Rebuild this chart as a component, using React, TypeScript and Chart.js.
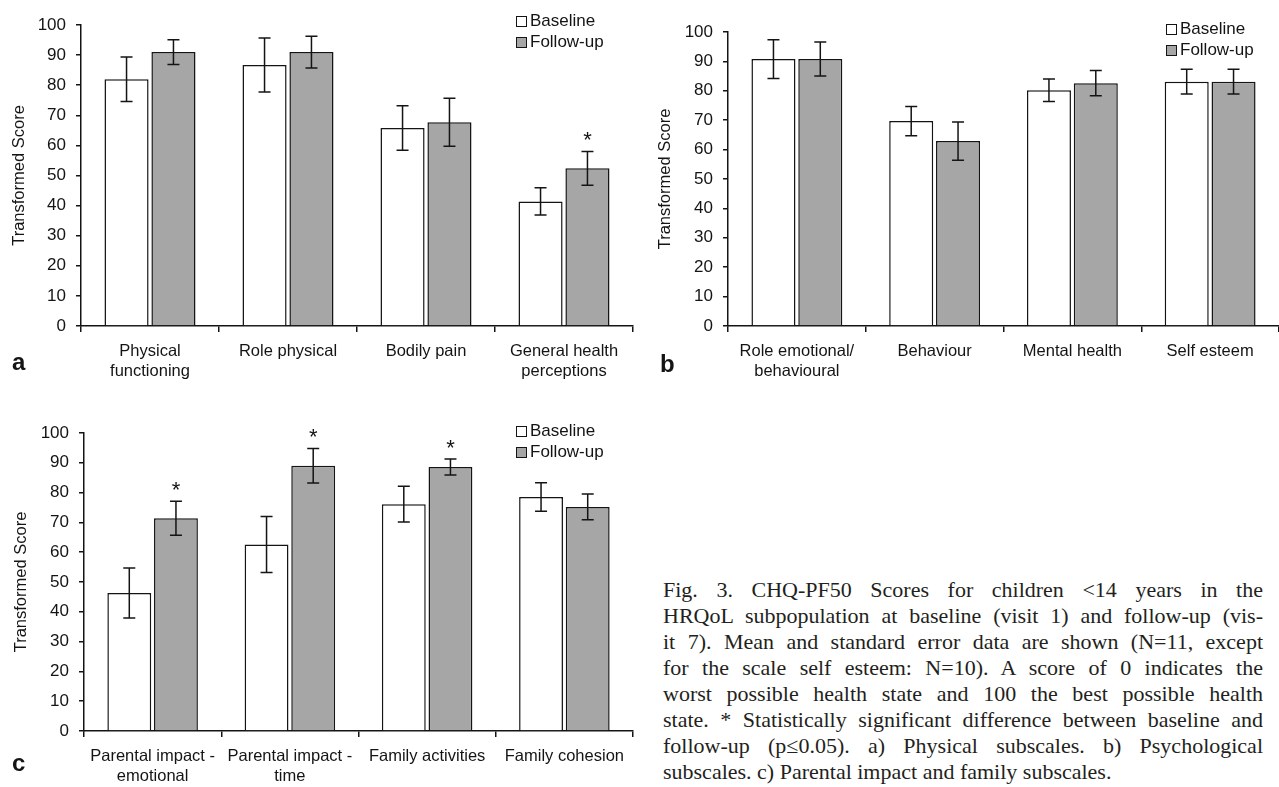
import React, { useEffect, useRef } from "react";
import { Chart, registerables } from "chart.js";
Chart.register(...registerables);

const seriesNames = ["Baseline", "Follow-up"];
const yTickValues = [0, 10, 20, 30, 40, 50, 60, 70, 80, 90, 100];

const catsA = [["Physical", "functioning"], "Role physical", "Bodily pain", ["General health", "perceptions"]];
const baseA = [82, 86.7, 65.8, 41.4];
const baseErrA = [7.4, 9.0, 7.4, 4.5];
const follA = [91, 91, 67.7, 52.4];
const follErrA = [4.1, 5.3, 8.0, 5.6];
const sigA = [false, false, false, true];

const catsB = [["Role emotional/", "behavioural"], "Behaviour", "Mental health", "Self esteem"];
const baseB = [90.8, 69.7, 80.2, 83.1];
const baseErrB = [6.6, 5.0, 3.8, 4.2];
const follB = [90.8, 62.9, 82.6, 83.1];
const follErrB = [5.8, 6.5, 4.3, 4.2];
const sigB = [false, false, false, false];

const catsC = [["Parental impact -", "emotional"], ["Parental impact -", "time"], "Family activities", "Family cohesion"];
const baseC = [46.3, 62.6, 76.1, 78.5];
const baseErrC = [8.4, 9.4, 6.0, 4.8];
const follC = [71.4, 89.0, 88.6, 75.2];
const follErrC = [5.7, 5.8, 2.7, 4.3];
const sigC = [true, true, true, false];

const FONT = "'Liberation Sans', Arial, sans-serif";
const INK = "#141414";
const GRAY = "#a6a6a6";

const errorBarPlugin = {
  id: "errorBars",
  afterDatasetsDraw(chart: any) {
    const ctx = chart.ctx;
    const y = chart.scales.y;
    ctx.save();
    chart.data.datasets.forEach((ds: any, di: number) => {
      const meta = chart.getDatasetMeta(di);
      meta.data.forEach((el: any, i: number) => {
        const v = ds.data[i];
        const e = ds.errors[i];
        const yt = y.getPixelForValue(v + e);
        const yb = y.getPixelForValue(v - e);
        const x = el.x;
        ctx.strokeStyle = INK;
        ctx.lineWidth = 1.5;
        ctx.beginPath();
        ctx.moveTo(x, yt);
        ctx.lineTo(x, yb);
        ctx.moveTo(x - 6, yt);
        ctx.lineTo(x + 6, yt);
        ctx.moveTo(x - 6, yb);
        ctx.lineTo(x + 6, yb);
        ctx.stroke();
        if (ds.sig && ds.sig[i]) {
          ctx.fillStyle = INK;
          ctx.font = `22px ${FONT}`;
          ctx.textAlign = "center";
          ctx.textBaseline = "alphabetic";
          ctx.fillText("*", x, yt - 4);
        }
      });
    });
    ctx.restore();
  },
};

type PanelProps = {
  left: number; top: number; width: number; height: number;
  padTop: number; padRight: number; yWidth: number; xHeight: number; titlePad: number;
  cats: any[]; base: number[]; baseErr: number[]; foll: number[]; follErr: number[]; sig: boolean[];
};

function Panel(p: PanelProps) {
  const ref = useRef<HTMLCanvasElement>(null);
  useEffect(() => {
    const chart = new Chart(ref.current as HTMLCanvasElement, {
      type: "bar",
      data: {
        labels: p.cats,
        datasets: [
          { label: seriesNames[0], data: p.base, errors: p.baseErr, backgroundColor: "#ffffff", borderColor: INK, borderWidth: 1.5, barPercentage: 0.94, categoryPercentage: 0.68 } as any,
          { label: seriesNames[1], data: p.foll, errors: p.follErr, sig: p.sig, backgroundColor: GRAY, borderColor: INK, borderWidth: 1.5, barPercentage: 0.94, categoryPercentage: 0.68 } as any,
        ],
      },
      options: {
        responsive: false,
        animation: false,
        devicePixelRatio: 1,
        layout: { padding: { top: p.padTop, right: p.padRight, left: 0, bottom: 0 } },
        plugins: { legend: { display: false }, tooltip: { enabled: false } },
        scales: {
          x: {
            afterFit: (s: any) => { s.height = p.xHeight; },
            grid: { display: true, offset: true, drawOnChartArea: false, drawTicks: true, tickLength: 6, color: INK, lineWidth: 1.5 },
            border: { display: true, color: INK, width: 1.5 },
            ticks: { autoSkip: false, maxRotation: 0, minRotation: 0, padding: 9, color: INK, font: { family: FONT, size: 16.5, lineHeight: 1.25 } },
          },
          y: {
            min: 0, max: 100,
            afterFit: (s: any) => { s.width = p.yWidth; },
            afterBuildTicks: (s: any) => { s.ticks = yTickValues.map((v) => ({ value: v })); },
            grid: { display: true, drawOnChartArea: false, drawTicks: true, tickLength: 5, color: INK, lineWidth: 1.5 },
            border: { display: true, color: INK, width: 1.5 },
            ticks: { padding: 10, color: INK, font: { family: FONT, size: 17 } },
            title: { display: true, text: "Transformed Score", color: INK, font: { family: FONT, size: 16.5 }, padding: { top: p.titlePad, bottom: 0 } },
          },
        },
      },
      plugins: [errorBarPlugin],
    } as any);
    return () => chart.destroy();
  }, []);
  return (
    <canvas ref={ref} width={p.width} height={p.height}
      style={{ position: "absolute", left: p.left, top: p.top, width: p.width, height: p.height }} />
  );
}

function Legend({ left, top }: { left: number; top: number }) {
  const row = (name: string, fill: string, y: number) => (
    <div style={{ position: "absolute", left, top: y - 11, height: 22, display: "flex", alignItems: "center", whiteSpace: "nowrap" }}>
      <span style={{ display: "inline-block", width: 9, height: 9, border: `1.5px solid ${INK}`, background: fill, marginRight: 3 }} />
      <span style={{ font: `17px ${FONT}`, color: INK }}>{name}</span>
    </div>
  );
  return (
    <>
      {row(seriesNames[0], "#ffffff", top)}
      {row(seriesNames[1], GRAY, top + 21)}
    </>
  );
}

function Letter({ ch, left, top }: { ch: string; left: number; top: number }) {
  return (
    <div style={{ position: "absolute", left, top: top - 14, font: `bold 24px ${FONT}`, color: INK, lineHeight: "28px" }}>{ch}</div>
  );
}

const captionLines = [
  "Fig. 3. CHQ-PF50 Scores for children <14 years in the",
  "HRQoL subpopulation at baseline (visit 1) and follow-up (vis-",
  "it 7). Mean and standard error data are shown (N=11, except",
  "for the scale self esteem: N=10). A score of 0 indicates the",
  "worst possible health state and 100 the best possible health",
  "state. * Statistically significant difference between baseline and",
  "follow-up (p\u22640.05). a) Physical subscales. b) Psychological",
  "subscales. c) Parental impact and family subscales.",
];

export default function App() {
  return (
    <div style={{ position: "absolute", left: 0, top: 0, width: 1279, height: 787, background: "#fff", overflow: "hidden" }}>
      <Panel left={0} top={0} width={640} height={390} padTop={25} padRight={7} yWidth={81} xHeight={64} titlePad={10}
        cats={catsA} base={baseA} baseErr={baseErrA} foll={follA} follErr={follErrA} sig={sigA} />
      <Panel left={640} top={0} width={639} height={390} padTop={32} padRight={0} yWidth={88} xHeight={64} titlePad={16}
        cats={catsB} base={baseB} baseErr={baseErrB} foll={follB} follErr={follErrB} sig={sigB} />
      <Panel left={0} top={390} width={640} height={397} padTop={43} padRight={7} yWidth={84} xHeight={56} titlePad={12}
        cats={catsC} base={baseC} baseErr={baseErrC} foll={follC} follErr={follErrC} sig={sigC} />
      <Legend left={516} top={21} />
      <Legend left={1166} top={29} />
      <Legend left={516} top={431} />
      <Letter ch="a" left={12} top={362} />
      <Letter ch="b" left={660} top={364} />
      <Letter ch="c" left={12} top={763} />
      <div style={{ position: "absolute", left: 663, top: 577, width: 600, font: "22px 'Liberation Serif', 'Times New Roman', serif", color: "#231f20", lineHeight: "26px" }}>
        {captionLines.map((t, i) => (
          <div key={i} style={{ textAlign: i < captionLines.length - 1 ? "justify" : "left", textAlignLast: i < captionLines.length - 1 ? "justify" : "left", whiteSpace: "nowrap", height: 26 }}>{t}</div>
        ))}
      </div>
    </div>
  );
}
